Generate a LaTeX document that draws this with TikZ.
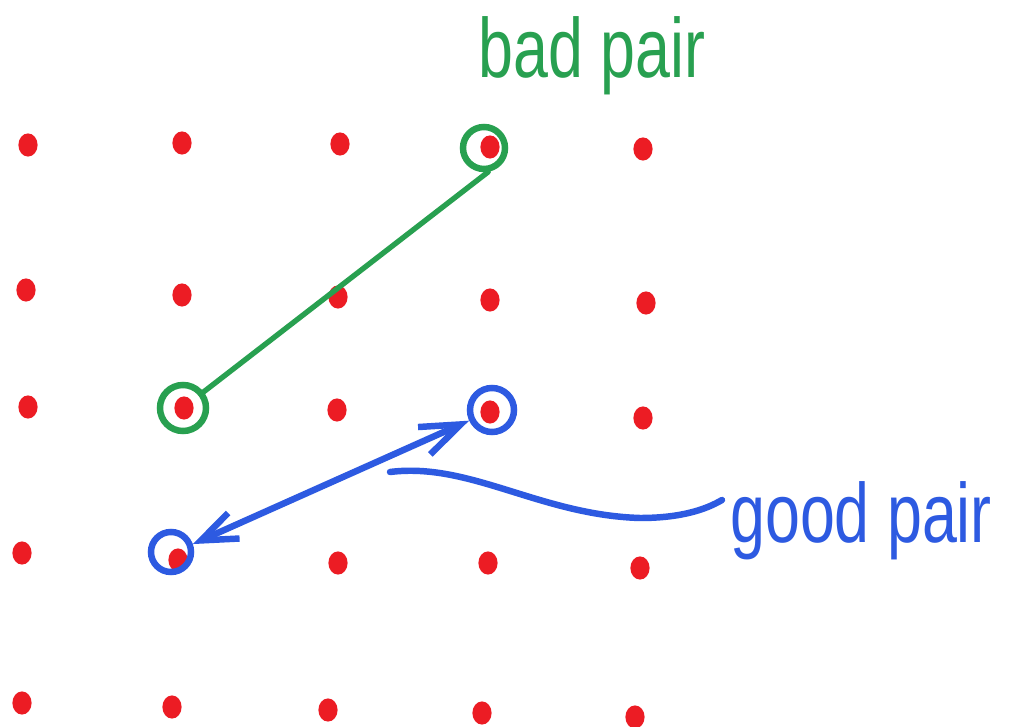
\documentclass[tikz,border=0pt]{standalone}
\usepackage{fontspec}
\setmainfont{Liberation Sans}
\usetikzlibrary{shapes.geometric,arrows.meta}
\definecolor{dotred}{RGB}{236,28,36}
\definecolor{pgreen}{RGB}{40,160,80}
\definecolor{pblue}{RGB}{45,90,225}
\begin{document}
\begin{tikzpicture}[x=0.025cm,y=-0.025cm,
  dot/.style={ellipse,fill=dotred,draw=none,minimum width=0.48cm,minimum height=0.58cm,inner sep=0pt},
  ring/.style={circle,draw,line width=4.6pt,minimum size=#1,inner sep=0pt},
  greenpen/.style={draw=pgreen,line width=3.8pt,line cap=round},
  bluepen/.style={draw=pblue,line width=4.6pt,line cap=round},
  label/.style={font=\fontsize{46}{50}\selectfont,inner sep=0pt,anchor=base west}]
\useasboundingbox[fill=white] (0,0) rectangle (1013,727);
% red dots
\node[dot] (d11) at (28,145) {};
\node[dot] (d12) at (182,143) {};
\node[dot] (d13) at (340,144) {};
\node[dot] (d14) at (490,147) {};
\node[dot] (d15) at (643,149) {};
\node[dot] (d21) at (26,290) {};
\node[dot] (d22) at (182,295) {};
\node[dot] (d23) at (338,297) {};
\node[dot] (d24) at (490,300) {};
\node[dot] (d25) at (646,303) {};
\node[dot] (d31) at (28,407) {};
\node[dot] (d32) at (184,408) {};
\node[dot] (d33) at (337,410) {};
\node[dot] (d34) at (490,412) {};
\node[dot] (d35) at (643,418) {};
\node[dot] (d41) at (22,553) {};
\node[dot] (d42) at (178,560) {};
\node[dot] (d43) at (338,563) {};
\node[dot] (d44) at (488,563) {};
\node[dot] (d45) at (640,568) {};
\node[dot] (d51) at (22,703) {};
\node[dot] (d52) at (172,707) {};
\node[dot] (d53) at (328,710) {};
\node[dot] (d54) at (482,713) {};
\node[dot] (d55) at (635,717) {};
% rings
\node[ring=1.05cm,draw=pgreen] (gA) at (484,148) {};
\node[ring=1.15cm,draw=pgreen] (gB) at (183,408) {};
\node[ring=1.1cm,draw=pblue] (bA) at (492,410) {};
\node[ring=1.0cm,draw=pblue] (bB) at (171,552) {};
% labels
\node[label,text=pgreen] (bad) at (478,78) {\scalebox{0.97}[1.3]{bad pair}};
\node[label,text=pblue] (good) at (730,542) {\scalebox{0.97}[1.3]{good pair}};
% connectors
\draw[greenpen] (gA.-80) -- (gB.38);
\draw[bluepen,{Straight Barb[length=9mm,width=7mm]}-{Straight Barb[length=10mm,width=7.5mm]}] (bB.20) -- (bA.205);
\coordinate (ptr) at (390,472);
\coordinate (gtip) at (722,500);
\draw[bluepen] (ptr) .. controls (470,462) and (540,515) .. (640,518) .. controls (680,518) and (705,510) .. (gtip);
\end{tikzpicture}
\end{document}
